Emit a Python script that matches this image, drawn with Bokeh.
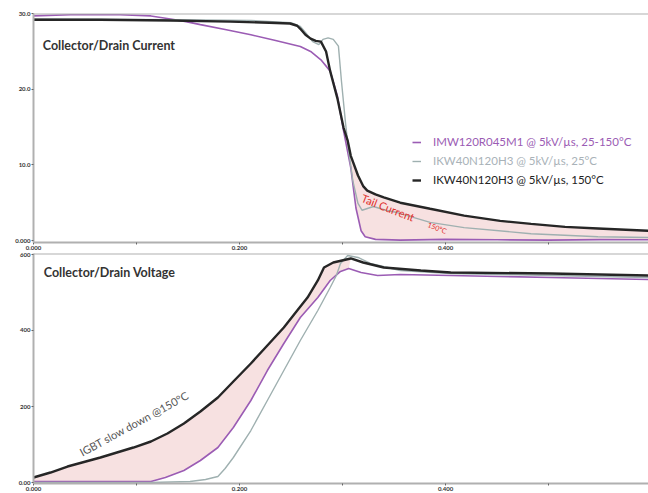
from bokeh.plotting import figure
from bokeh.models import Range1d, FixedTicker, Label, Span, Legend, LegendItem
from bokeh.layouts import column
from bokeh.embed import file_html
from bokeh.resources import INLINE

# ---------------- data (time in µs) ----------------
# Collector/Drain current [A]
t_i_sic = [0, 0.036, 0.084, 0.114, 0.133, 0.148, 0.162, 0.186, 0.211, 0.235, 0.259,
           0.269, 0.279, 0.288, 0.295, 0.301, 0.308, 0.313, 0.318, 0.322, 0.332,
           0.356, 0.40, 0.45, 0.50, 0.55, 0.597]
i_sic = [29.7, 29.85, 29.85, 29.7, 29.3, 28.95, 28.55, 27.9, 27.2, 26.45, 25.65,
         25.0, 23.9, 22.4, 19.1, 14.5, 9.6, 4.3, 1.3, 0.5, 0.15,
         0.05, 0.15, 0.1, 0.05, 0.12, 0.1]

t_i_igbt25 = [0, 0.133, 0.211, 0.250, 0.259, 0.264, 0.271, 0.277, 0.281, 0.286, 0.291,
              0.296, 0.299, 0.303, 0.306, 0.310, 0.315, 0.319, 0.330, 0.342, 0.353,
              0.385, 0.418, 0.483, 0.548, 0.597]
i_igbt25 = [29.3, 29.2, 29.1, 28.8, 28.3, 27.5, 26.3, 25.9, 26.6, 26.8, 26.6,
            25.7, 21.0, 15.4, 11.8, 7.9, 4.9, 4.0, 4.5, 4.0, 3.7,
            2.4, 1.7, 0.9, 0.5, 0.4]

t_i_igbt150 = [0, 0.065, 0.133, 0.191, 0.229, 0.249, 0.256, 0.259, 0.264, 0.269, 0.274,
               0.279, 0.284, 0.288, 0.295, 0.301, 0.305, 0.308, 0.315, 0.320, 0.324,
               0.332, 0.340, 0.356, 0.385, 0.418, 0.453, 0.483, 0.516, 0.548, 0.597]
i_igbt150 = [29.2, 29.2, 29.1, 28.95, 28.8, 28.7, 28.4, 28.0, 27.2, 26.7, 26.4,
             26.3, 25.0, 22.4, 18.8, 14.9, 13.2, 11.2, 8.6, 7.2, 6.6,
             6.1, 5.7, 5.0, 4.2, 3.3, 2.6, 2.2, 1.8, 1.6, 1.3]

# Collector/Drain voltage [V]
t_v_sic = [0, 0.065, 0.114, 0.128, 0.146, 0.162, 0.179, 0.194, 0.211, 0.227, 0.243,
           0.259, 0.276, 0.288, 0.298, 0.306, 0.318, 0.334, 0.356, 0.405, 0.502, 0.597]
v_sic = [2.6, 2.6, 2.6, 13.2, 31.6, 57.9, 92.1, 144.7, 215.8, 294.7, 365.8,
         434.2, 486.8, 531.6, 555.3, 563.2, 552.6, 544.7, 547.4, 544.7, 539.5, 534.2]

t_v_igbt25 = [0, 0.114, 0.152, 0.167, 0.179, 0.186, 0.194, 0.211, 0.227, 0.243, 0.259,
              0.276, 0.288, 0.294, 0.298, 0.305, 0.315, 0.327, 0.356, 0.405, 0.502, 0.597]
v_igbt25 = [0, 0, 2.6, 7.9, 15.8, 36.8, 65.8, 136.8, 215.8, 294.7, 373.7,
            452.6, 513.2, 544.7, 576.3, 597.4, 592.1, 576.3, 557.9, 550.0, 544.7, 539.5]

t_v_igbt150 = [0, 0.0165, 0.033, 0.065, 0.097, 0.114, 0.130, 0.146, 0.162, 0.179, 0.194,
               0.211, 0.227, 0.243, 0.256, 0.266, 0.276, 0.282, 0.291, 0.308, 0.320,
               0.340, 0.376, 0.405, 0.502, 0.597]
v_igbt150 = [13.2, 26.3, 42.1, 65.8, 92.1, 107.9, 128.9, 155.3, 186.8, 223.7, 265.8,
             313.2, 360.5, 407.9, 452.6, 486.8, 531.6, 565.8, 578.9, 589.5, 578.9,
             565.8, 557.9, 552.6, 550.0, 544.7]

x_ticks = [0, 0.1, 0.2, 0.3, 0.4, 0.5]
x_labels = {0: "0.000", 0.1: "", 0.2: "0.200", 0.3: "", 0.4: "0.400", 0.5: ""}
i_ticks = [0, 10, 20, 30]
i_labels = {0: "0.000", 10: "10.0", 20: "20.0", 30: "30.0"}
v_ticks = [0, 200, 400, 600]
v_labels = {0: "0.00", 200: "200", 400: "400", 600: "600"}

names = ["IMW120R045M1 @ 5kV/µs, 25-150°C",
         "IKW40N120H3 @ 5kV/µs, 25°C",
         "IKW40N120H3 @ 5kV/µs, 150°C"]

# ---------------- styles ----------------
FONT = "Lato"
C_SIC = "#9b5cb4"
C_25 = "#9fb0b0"
C_150 = "#262626"
C_FILL = "#f6dede"
C_AX = "#b0b0b0"


def style(p, ticks, labels, yticks, ylabels):
    p.xgrid.visible = False
    p.ygrid.visible = False
    p.outline_line_color = None
    for ax in (p.xaxis[0], p.yaxis[0]):
        ax.axis_line_color = C_AX
        ax.axis_line_width = 2
        ax.major_tick_line_color = "#666666"
        ax.major_tick_out = 2
        ax.major_tick_in = 0
        ax.minor_tick_line_color = None
        ax.major_label_text_font = FONT
        ax.major_label_text_font_size = "6px"
        ax.major_label_text_font_style = "bold"
        ax.major_label_text_color = "#333333"
        ax.major_label_standoff = 1
    p.xaxis[0].ticker = FixedTicker(ticks=ticks)
    p.xaxis[0].major_label_overrides = labels
    p.yaxis[0].ticker = FixedTicker(ticks=yticks)
    p.yaxis[0].major_label_overrides = ylabels
    p.add_layout(Span(location=p.y_range.end, dimension="width",
                      line_color=C_AX, line_width=2))


W = 648
XR = (0, 0.597)

# ---------------- upper: current ----------------
p1 = figure(width=W, height=252, output_backend="svg", toolbar_location=None,
            x_range=Range1d(*XR), y_range=Range1d(-0.26, 30.02),
            min_border_left=33, min_border_right=0, min_border_top=13,
            min_border_bottom=10, background_fill_color="white")
style(p1, x_ticks, x_labels, i_ticks, i_labels)

k = next(j for j, tt in enumerate(t_i_igbt150) if tt >= 0.301)
m = next(j for j, tt in enumerate(t_i_sic) if tt >= 0.301)
p1.patch(t_i_igbt150[k:] + t_i_sic[m:][::-1], i_igbt150[k:] + i_sic[m:][::-1],
         fill_color=C_FILL, fill_alpha=0.9, line_color=None)

r_sic = p1.line(t_i_sic, i_sic, line_color=C_SIC, line_width=1.6)
r_25 = p1.line(t_i_igbt25, i_igbt25, line_color=C_25, line_width=1.4)
r_150 = p1.line(t_i_igbt150, i_igbt150, line_color=C_150, line_width=2.4)

p1.add_layout(Label(x=0.009, y=25.8, text="Collector/Drain Current",
                    text_font=FONT, text_font_size="12.5px", text_font_style="bold",
                    text_color="#333333", text_baseline="middle"))
p1.add_layout(Label(x=0.319, y=5.7, text="Tail Current", angle=-0.37,
                    text_font=FONT, text_font_size="11px",
                    text_color="#e0302c", text_baseline="middle"))
p1.add_layout(Label(x=0.383, y=2.2, text="150°C", angle=-0.37,
                    text_font=FONT, text_font_size="7px",
                    text_color="#e0302c", text_baseline="middle"))
p1.add_layout(Label(x=0.3, y=-0.7, text="t [µs]", text_align="center",
                    text_baseline="top", text_font=FONT, text_font_size="6.5px",
                    text_font_style="bold", text_color="#ff5a1f",
                    background_fill_color="#ffd6e4"))

rows = [(r_sic, names[0], C_SIC, 94), (r_25, names[1], "#a9b2b8", 75),
        (r_150, names[2], "#222222", 56)]
for r, nm, col, yy in rows:
    leg = Legend(items=[LegendItem(label=nm, renderers=[r])], location=(379, yy),
                 label_text_color=col, label_text_font=FONT, label_text_font_size="11.5px",
                 glyph_width=9, glyph_height=12, label_height=12, label_standoff=12,
                 padding=0, margin=0, spacing=0, border_line_color=None,
                 background_fill_alpha=0)
    p1.add_layout(leg)

# ---------------- lower: voltage ----------------
p2 = figure(width=W, height=241, output_backend="svg", toolbar_location=None,
            x_range=Range1d(*XR), y_range=Range1d(-2.6, 602.6),
            min_border_left=33, min_border_right=0, min_border_top=1,
            min_border_bottom=10, background_fill_color="white")
style(p2, x_ticks, x_labels, v_ticks, v_labels)

k2 = next(j for j, tt in enumerate(t_v_igbt150) if tt > 0.31)
m2 = next(j for j, tt in enumerate(t_v_sic) if tt > 0.31)
p2.patch(t_v_igbt150[:k2] + t_v_sic[:m2][::-1], v_igbt150[:k2] + v_sic[:m2][::-1],
         fill_color=C_FILL, fill_alpha=0.9, line_color=None)

p2.line(t_v_sic, v_sic, line_color=C_SIC, line_width=1.6)
p2.line(t_v_igbt25, v_igbt25, line_color=C_25, line_width=1.4)
p2.line(t_v_igbt150, v_igbt150, line_color=C_150, line_width=2.4)

p2.add_layout(Label(x=0.010, y=552, text="Collector/Drain Voltage",
                    text_font=FONT, text_font_size="12.5px", text_font_style="bold",
                    text_color="#333333", text_baseline="middle"))
p2.add_layout(Label(x=0.0485, y=63, text="IGBT slow down @150°C", angle=0.50,
                    text_font=FONT, text_font_size="11px",
                    text_color="#555555", text_baseline="bottom"))
p2.add_layout(Label(x=0.3, y=-5, text="t [µs]", text_align="center",
                    text_baseline="top", text_font=FONT, text_font_size="6px",
                    text_font_style="bold", text_color="#ff5a1f",
                    background_fill_color="#ffd6e4"))

layout = column(p1, p2, spacing=0)
open("out.html", "w").write(file_html(layout, INLINE))
